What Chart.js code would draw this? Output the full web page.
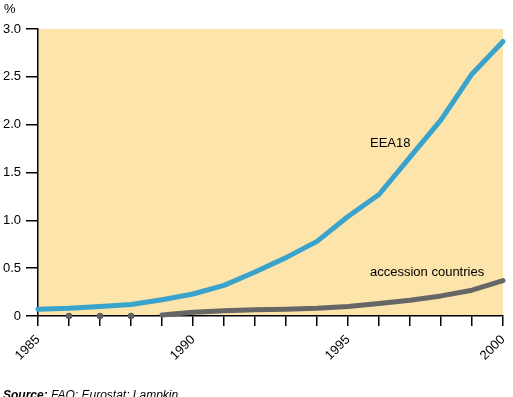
<!DOCTYPE html>
<html>
<head>
<meta charset="utf-8">
<script src="https://cdn.jsdelivr.net/npm/chart.js@4"></script>
<style>
html,body{margin:0;padding:0;background:#fff;}
#wrap{width:513px;height:397px;position:relative;}
</style>
</head>
<body>
<div id="wrap"><canvas id="c" width="513" height="397"></canvas></div>
<script>
const years = ['1985','1986','1987','1988','1989','1990','1991','1992','1993','1994','1995','1996','1997','1998','1999','2000'];
const shownYearLabels = ['1985','1990','1995','2000'];
const eea18 = [0.07,0.08,0.10,0.12,0.17,0.23,0.32,0.46,0.61,0.78,1.04,1.27,1.66,2.05,2.53,2.87];
const accession = [null,null,null,null,0.01,0.04,0.055,0.065,0.07,0.08,0.10,0.13,0.165,0.21,0.27,0.37];
const accessionDots = [null,0,0,0,null,null,null,null,null,null,null,null,null,null,null,null];
const yTicks = [0,0.5,1.0,1.5,2.0,2.5,3.0];
const seriesNames = ['EEA18','accession countries'];

const FONT = "'Liberation Sans', Arial, sans-serif";

const bgPlugin = {
  id: 'bg',
  beforeDraw(chart) {
    const {ctx, chartArea: a} = chart;
    ctx.save();
    ctx.fillStyle = '#fce4aa';
    ctx.fillRect(a.left, a.top, a.right - a.left, a.bottom - a.top);
    ctx.restore();
  }
};

const textPlugin = {
  id: 'texts',
  afterDraw(chart) {
    const {ctx} = chart;
    const xs = chart.scales.x, ys = chart.scales.y;
    ctx.save();
    ctx.fillStyle = '#000';
    ctx.textBaseline = 'alphabetic';
    ctx.font = '13px ' + FONT;
    ctx.textAlign = 'left';
    ctx.fillText('%', 4, 13);
    // series labels
    ctx.fillText(seriesNames[0], xs.getPixelForValue(11) - 9, ys.getPixelForValue(1.77));
    ctx.fillText(seriesNames[1], xs.getPixelForValue(11) - 9, ys.getPixelForValue(0.42));
    // source
    ctx.font = 'italic bold 12px ' + FONT;
    ctx.fillText('Source:', 3, 399);
    const w = ctx.measureText('Source: ').width;
    ctx.font = 'italic 12px ' + FONT;
    ctx.fillText('FAO; Eurostat; Lampkin', 3 + w, 399);
    ctx.restore();
  }
};

new Chart(document.getElementById('c'), {
  type: 'line',
  data: {
    labels: years,
    datasets: [
      {
        label: seriesNames[0],
        data: eea18,
        borderColor: '#3aa3cc',
        borderWidth: 5,
        pointRadius: 0,
        tension: 0,
        borderCapStyle: 'round',
        borderJoinStyle: 'round',
        clip: false
      },
      {
        label: seriesNames[1],
        data: accession,
        borderColor: '#666666',
        borderWidth: 5,
        pointRadius: 0,
        tension: 0,
        borderCapStyle: 'round',
        borderJoinStyle: 'round',
        clip: false
      },
      {
        label: 'dots',
        data: accessionDots,
        showLine: false,
        pointRadius: 2.5,
        pointBackgroundColor: '#606060',
        pointBorderColor: '#606060',
        pointBorderWidth: 1.5,
        clip: false
      }
    ]
  },
  options: {
    responsive: false,
    animation: false,
    devicePixelRatio: 1,
    layout: { padding: { top: 29, right: 10, left: 0, bottom: 0 } },
    plugins: { legend: { display: false }, tooltip: { enabled: false } },
    scales: {
      x: {
        type: 'category',
        offset: false,
        grid: { display: true, drawOnChartArea: false, drawTicks: true, tickLength: 10, color: '#000', lineWidth: 1.5 },
        border: { display: true, color: '#000', width: 1.5 },
        ticks: {
          autoSkip: false,
          minRotation: 45,
          maxRotation: 45,
          padding: 6,
          color: '#000',
          font: { family: FONT, size: 13 },
          callback: function(v, i) { const l = years[i]; return shownYearLabels.includes(l) ? l : ''; }
        },
        afterFit(s) { s.height = 81; s.paddingLeft = 0; s.paddingRight = 0; }
      },
      y: {
        min: 0,
        max: 3,
        grid: { display: true, drawOnChartArea: false, drawTicks: true, tickLength: 12, color: '#000', lineWidth: 1.5 },
        border: { display: true, color: '#000', width: 1.5 },
        afterBuildTicks(s) { s.ticks = yTicks.map(v => ({ value: v })); },
        ticks: {
          padding: 5,
          color: '#000',
          font: { family: FONT, size: 13 },
          callback: v => v === 0 ? '0' : v.toFixed(1)
        },
        afterFit(s) { s.width = 38; s.paddingTop = 0; s.paddingBottom = 0; }
      }
    }
  },
  plugins: [bgPlugin, textPlugin]
});
</script>
</body>
</html>
